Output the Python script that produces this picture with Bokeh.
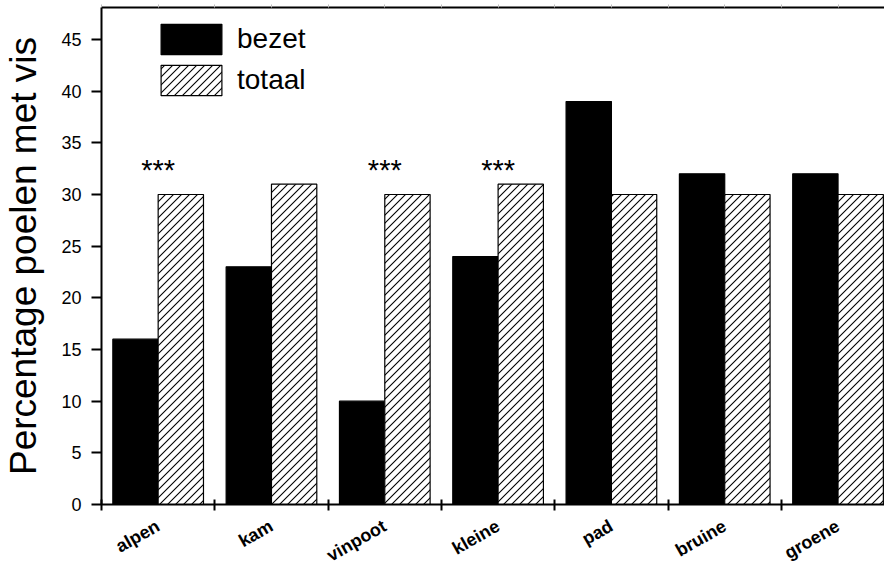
import base64
import numpy as np
from bokeh.plotting import figure
from bokeh.models import Range1d, FixedTicker, LinearAxis, Legend, ColumnDataSource, ImageURLTexture
from bokeh.core.properties import value
from bokeh.embed import file_html
from bokeh.resources import INLINE

# ---- data -------------------------------------------------------------
categories = ["alpen", "kam", "vinpoot", "kleine", "pad", "bruine", "groene"]
bezet = [16, 23, 10, 24, 39, 32, 32]
totaal = [30, 31, 30, 31, 30, 30, 30]
sig_categories = ["alpen", "vinpoot", "kleine"]
sig_marks = ["***", "***", "***"]
sig_level = [32.4, 32.4, 32.4]
y_ticks = [0, 5, 10, 15, 20, 25, 30, 35, 40, 45]
series_names = ["bezet", "totaal"]
y_label = "Percentage poelen met vis"

FONT = "Liberation Sans"

idx = np.arange(len(categories))
src = ColumnDataSource(dict(
    xb=idx - 0.2, xt=idx + 0.2, bezet=bezet, totaal=totaal))
sig_x = [categories.index(c) for c in sig_categories]

FRAME_H = 499

p = figure(width=884, height=577, output_backend="svg", toolbar_location=None,
           x_range=Range1d(-0.5, 6.41), y_range=Range1d(0, 48.1),
           min_border_left=95, min_border_right=0, min_border_top=7,
           min_border_bottom=71)
p.outline_line_color = None
p.xgrid.visible = False
p.ygrid.visible = False
p.background_fill_color = "white"
p.border_fill_color = "white"

tile_svg = ("<svg xmlns='http://www.w3.org/2000/svg' width='8' height='8'>"
            "<rect width='8' height='8' fill='white'/>"
            "<path d='M-1,1 L1,-1 M0,8 L8,0 M7,9 L9,7' stroke='black' "
            "stroke-width='1.1' fill='none'/></svg>")
tile_url = "data:image/svg+xml;base64," + base64.b64encode(tile_svg.encode()).decode()
diag = ImageURLTexture(url=tile_url)

r_b = p.vbar(x="xb", top="bezet", width=0.4, bottom=0, source=src,
             fill_color="black", line_color="black", line_width=1.2)
r_t = p.vbar(x="xt", top="totaal", width=0.4, bottom=0, source=src,
             fill_color="white", line_color="black", line_width=1.2,
             hatch_pattern=value("diag45"), hatch_extra={"diag45": diag},
             hatch_color="black", hatch_weight=1.1, hatch_scale=8)

p.text(x=sig_x, y=sig_level, text=sig_marks, text_align="center",
       text_baseline="alphabetic", text_font=value(FONT),
       text_font_size="29px", text_color="black")

# x axis
xa = p.xaxis[0]
xa.ticker = FixedTicker(ticks=list(idx), minor_ticks=[i - 0.5 for i in range(len(categories) + 1)])
xa.major_label_overrides = {int(i): c for i, c in zip(idx, categories)}
xa.major_tick_in = 0
xa.major_tick_out = 0
xa.minor_tick_in = 5
xa.minor_tick_out = 6
xa.minor_tick_line_width = 2
xa.minor_tick_line_color = "black"
xa.axis_line_width = 2
xa.axis_line_color = "black"
xa.major_label_orientation = 0.52
xa.major_label_text_font = FONT
xa.major_label_text_font_style = "bold"
xa.major_label_text_font_size = "18px"
xa.major_label_text_color = "black"
xa.major_label_standoff = 14

# y axis
ya = p.yaxis[0]
ya.ticker = FixedTicker(ticks=y_ticks)
ya.major_tick_in = 0
ya.major_tick_out = 10
ya.major_tick_line_width = 2
ya.major_tick_line_color = "black"
ya.minor_tick_line_color = None
ya.axis_line_width = 2
ya.axis_line_color = "black"
ya.major_label_text_font = FONT
ya.major_label_text_font_size = "18px"
ya.major_label_text_color = "black"
ya.major_label_standoff = 10
ya.axis_label = y_label
ya.axis_label_text_font = FONT
ya.axis_label_text_font_style = "normal"
ya.axis_label_text_font_size = "37px"
ya.axis_label_text_color = "black"
ya.axis_label_standoff = 14

# top border axis (no labels, faint ticks)
half_ticks = [i * 0.5 - 0.5 for i in range(2 * len(categories) + 1)]
ta = LinearAxis(ticker=FixedTicker(ticks=[], minor_ticks=half_ticks),
                major_tick_in=0, major_tick_out=0,
                minor_tick_in=0, minor_tick_out=3,
                minor_tick_line_color="#bbbbbb", minor_tick_line_width=1,
                axis_line_width=2, axis_line_color="black",
                major_label_standoff=0)
p.add_layout(ta, "above")

legend = Legend(items=[(series_names[0], [r_b]), (series_names[1], [r_t])],
                location=(52, FRAME_H - 94), orientation="vertical",
                glyph_width=76, glyph_height=38, label_height=38,
                label_standoff=8, spacing=3, padding=0, margin=0,
                label_text_font=FONT, label_text_font_size="28px",
                label_text_color="black",
                border_line_color=None, background_fill_alpha=0)
p.add_layout(legend)

open("out.html", "w").write(file_html(p, INLINE))
